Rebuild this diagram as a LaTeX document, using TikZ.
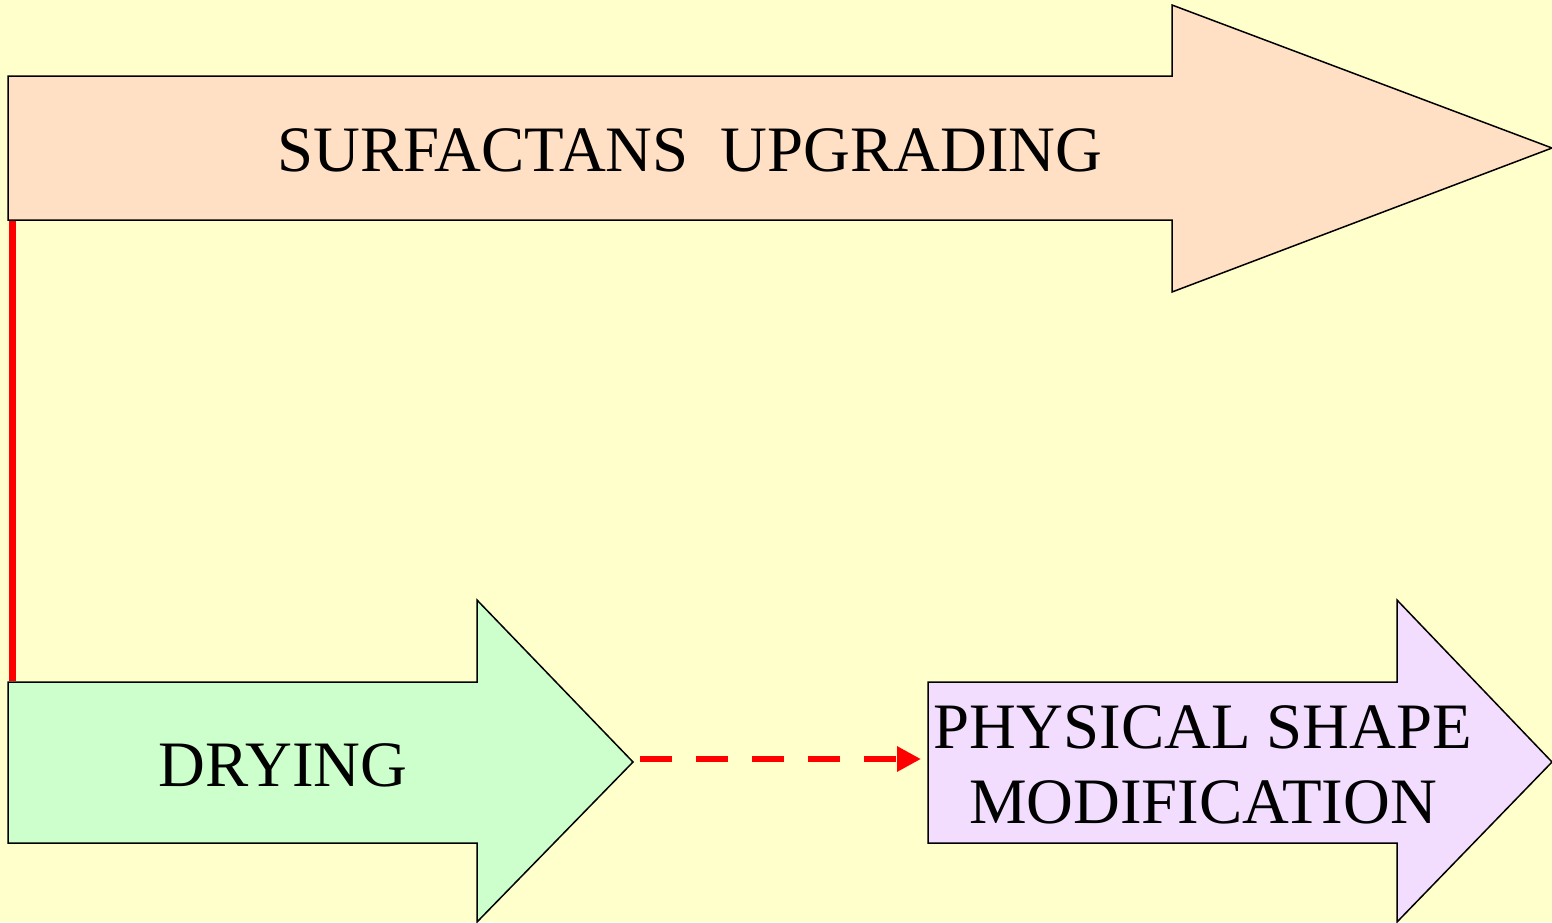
\documentclass[tikz,border=0pt]{standalone}
\usepackage{fontspec}
\setmainfont{Liberation Serif}
\usetikzlibrary{arrows.meta}
\definecolor{bg}{HTML}{FFFFCC}
\definecolor{peach}{HTML}{FFE0C4}
\definecolor{mint}{HTML}{CCFFCC}
\definecolor{lav}{HTML}{F2DDFF}
\tikzset{
  blockarrow/.style={draw=black, line width=0.75pt, line join=miter},
  lbl/.style={font=\fontsize{32.4}{37.5}\selectfont, align=center, inner sep=0pt},
  redline/.style={draw=red, line width=3.5pt},
  reddash/.style={draw=red, line width=3pt, dash pattern=on 16pt off 12pt, -{Triangle[length=12pt,width=12pt]}}
}
\begin{document}
\begin{tikzpicture}[x=0.5pt,y=-0.5pt]
\fill[bg] (0,0) rectangle (1552,922);
\useasboundingbox (0,0) rectangle (1552,922);
% top arrow
\draw[blockarrow, fill=peach] (8,76) -- (1172,76) -- (1172,5) -- (1552,148) -- (1172,292) -- (1172,220) -- (8,220) -- cycle;
% drying arrow
\draw[blockarrow, fill=mint] (8,682) -- (477,682) -- (477,600) -- (633,762) -- (477,922) -- (477,843) -- (8,843) -- cycle;
% physical arrow
\draw[blockarrow, fill=lav] (928,682) -- (1397,682) -- (1397,600) -- (1552,762) -- (1397,922) -- (1397,843) -- (928,843) -- cycle;
% labels
\node[lbl] (surf) at (690,150) {SURFACTANS\ \ UPGRADING};
\node[lbl] (dry) at (283,765) {DRYING};
\node[lbl] (phys) at (1203,765) {PHYSICAL SHAPE\\MODIFICATION};
% connector anchors
\coordinate (topbl) at (12.5,221);
\coordinate (drytl) at (12.5,681);
\coordinate (drytip) at (640,759);
\coordinate (physl) at (921,759);
\draw[redline] (topbl) -- (drytl);
\draw[reddash] (drytip) -- (physl);
\end{tikzpicture}
\end{document}
